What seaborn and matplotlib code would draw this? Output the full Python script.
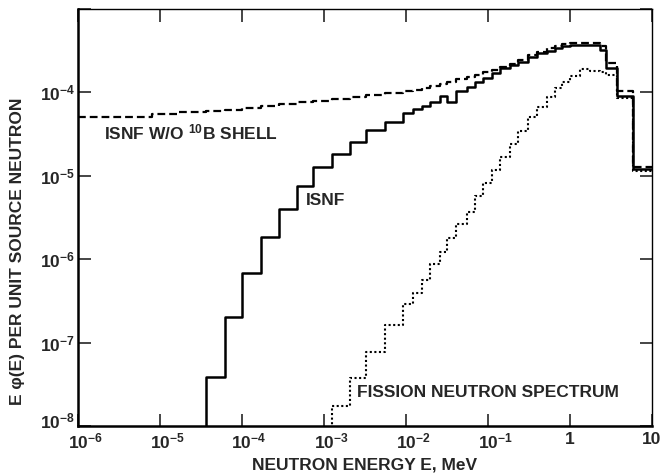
import pandas as pd
import seaborn as sns
from matplotlib import pyplot as plt
from matplotlib import transforms

# group boundaries of the energy structure, MeV (lower edges + last upper edge)
energy_bounds = [1.0e-6, 8.0e-6, 1.66e-5, 3.6e-5, 6.2e-5, 9.9e-5, 1.69e-4,
                 2.83e-4, 4.65e-4, 7.4e-4, 1.24e-3, 2.07e-3, 3.25e-3, 5.5e-3,
                 9.2e-3, 1.22e-2, 1.57e-2, 1.96e-2, 2.6e-2, 3.16e-2, 4.07e-2,
                 5.55e-2, 6.9e-2, 8.7e-2, 0.112, 0.14, 0.185, 0.232, 0.308,
                 0.396, 0.525, 0.656, 0.80, 1.0, 1.32, 1.75, 2.32, 2.75, 3.74,
                 5.86, 10.0]

# E*phi(E) per unit source neutron, one value per group
isnf = [1e-10, 1e-10, 5e-9, 3.85e-8, 2.0e-7, 6.8e-7, 1.83e-6, 3.97e-6, 7.5e-6,
        1.26e-5, 1.82e-5, 2.55e-5, 3.52e-5, 4.44e-5, 5.6e-5, 6.25e-5, 6.85e-5,
        7.65e-5, 9.0e-5, 7.7e-5, 1.045e-4, 1.17e-4, 1.34e-4, 1.47e-4, 1.69e-4,
        1.94e-4, 2.13e-4, 2.31e-4, 2.65e-4, 2.96e-4, 3.13e-4, 3.4e-4, 3.6e-4,
        3.7e-4, 3.7e-4, 3.65e-4, 3.22e-4, 1.96e-4, 9.0e-5, 1.2e-5]

isnf_no_shell = [5.0e-5, 5.45e-5, 5.75e-5, 6.0e-5, 6.13e-5, 6.54e-5, 6.9e-5,
                 7.34e-5, 7.65e-5, 7.98e-5, 8.3e-5, 8.7e-5, 9.3e-5, 9.9e-5,
                 1.04e-4, 1.07e-4, 1.13e-4, 1.19e-4, 1.26e-4, 1.33e-4,
                 1.445e-4, 1.53e-4, 1.61e-4, 1.75e-4, 1.85e-4, 2.01e-4,
                 2.19e-4, 2.44e-4, 2.8e-4, 3.05e-4, 3.4e-4, 3.6e-4, 3.8e-4,
                 3.9e-4, 3.9e-4, 3.86e-4, 3.6e-4, 2.25e-4, 1.04e-4, 1.27e-5]

fission = [1e-12, 1e-12, 1e-12, 1e-12, 1e-12, 1e-12, 1e-11, 1e-10, 1e-9,
           5e-9, 1.76e-8, 3.75e-8, 7.8e-8, 1.61e-7, 2.88e-7, 3.93e-7, 5.7e-7,
           8.7e-7, 1.22e-6, 1.78e-6, 2.62e-6, 3.69e-6, 5.69e-6, 8.15e-6,
           1.17e-5, 1.67e-5, 2.39e-5, 3.46e-5, 5.05e-5, 6.75e-5, 8.8e-5,
           1.13e-4, 1.33e-4, 1.57e-4, 1.9e-4, 1.8e-4, 1.75e-4, 1.6e-4,
           8.6e-5, 1.13e-5]

x_ticks = [1e-6, 1e-5, 1e-4, 1e-3, 1e-2, 1e-1, 1, 10]
x_labels = [r"$\mathdefault{10^{-6}}$", r"$\mathdefault{10^{-5}}$",
            r"$\mathdefault{10^{-4}}$", r"$\mathdefault{10^{-3}}$",
            r"$\mathdefault{10^{-2}}$", r"$\mathdefault{10^{-1}}$", "1", "10"]
y_ticks = [1e-8, 1e-7, 1e-6, 1e-5, 1e-4, 1e-3]
y_labels = [r"$\mathdefault{10^{-8}}$", r"$\mathdefault{10^{-7}}$",
            r"$\mathdefault{10^{-6}}$", r"$\mathdefault{10^{-5}}$",
            r"$\mathdefault{10^{-4}}$", ""]

FS = 12.5


def step_frame(values):
    # repeat last value so the final group reaches its upper edge
    return pd.DataFrame({"E": energy_bounds, "flux": values + [values[-1]]})


sns.set_style("ticks")
plt.rcParams['font.family'] = ['Liberation Sans', 'DejaVu Sans']
plt.rcParams['font.weight'] = 'bold'

fig = plt.figure(figsize=(6.67, 4.73), dpi=100)
ax = fig.add_axes([0.117, 0.0994, 0.8605, 0.8816])

sns.lineplot(x="E", y="flux", data=step_frame(isnf_no_shell), ax=ax,
             color="black", linewidth=1.6, linestyle=(0, (3.5, 1.8)),
             drawstyle="steps-post", estimator=None, sort=False)
sns.lineplot(x="E", y="flux", data=step_frame(isnf), ax=ax,
             color="black", linewidth=1.8, drawstyle="steps-post",
             estimator=None, sort=False)
sns.lineplot(x="E", y="flux", data=step_frame(fission), ax=ax,
             color="black", linewidth=1.5, linestyle=(0, (1, 1.2)),
             drawstyle="steps-post", estimator=None, sort=False)

ax.set_xscale("log")
ax.set_yscale("log")
ax.set_xlim(1e-6, 10)
ax.set_ylim(1e-8, 1e-3)
ax.set_xticks(x_ticks, x_labels)
ax.set_yticks(y_ticks, y_labels)
ax.minorticks_off()
ax.tick_params(direction="in", length=9, width=1.2, top=True, right=True,
               labelsize=FS, pad=4)
ax.tick_params(axis="y", pad=2)
for lab in ax.get_xticklabels() + ax.get_yticklabels():
    lab.set_fontweight("bold")

# the "10" of each power label sits over its tick, exponent hangs right
shift_right = transforms.ScaledTranslation(0.07, 0, fig.dpi_scale_trans)
for lab in ax.get_xticklabels()[:6]:
    lab.set_transform(lab.get_transform() + shift_right)
shift_up = transforms.ScaledTranslation(0, 0.06, fig.dpi_scale_trans)
bottom_lab = ax.get_yticklabels()[0]
bottom_lab.set_transform(bottom_lab.get_transform() + shift_up)

for side in ["left", "bottom"]:
    ax.spines[side].set_linewidth(1.8)
for side in ["top", "right"]:
    ax.spines[side].set_linewidth(1.0)
for s in ax.spines.values():
    s.set_color("black")

ax.set_xlabel("NEUTRON ENERGY E, MeV", fontsize=FS, fontweight="bold")
ax.xaxis.set_label_coords(0.5, -0.0935)
ax.xaxis.label.set_va("center")
ax.set_ylabel("E φ(E) PER UNIT SOURCE NEUTRON", fontsize=FS,
              fontweight="bold")
ax.yaxis.set_label_coords(-0.105, 0.42)
ax.yaxis.label.set_va("center")

ax.text(2.1e-6, 3.3e-5, r"ISNF W/O $\mathdefault{^{10}}$B SHELL",
        fontsize=FS, fontweight="bold", va="center")
ax.text(6.0e-4, 5.1e-6, "ISNF", fontsize=FS, fontweight="bold",
        va="center")
ax.text(2.5e-3, 2.5e-8, "FISSION NEUTRON SPECTRUM", fontsize=FS,
        fontweight="bold", va="center")

fig.savefig("out.png", dpi=100)
